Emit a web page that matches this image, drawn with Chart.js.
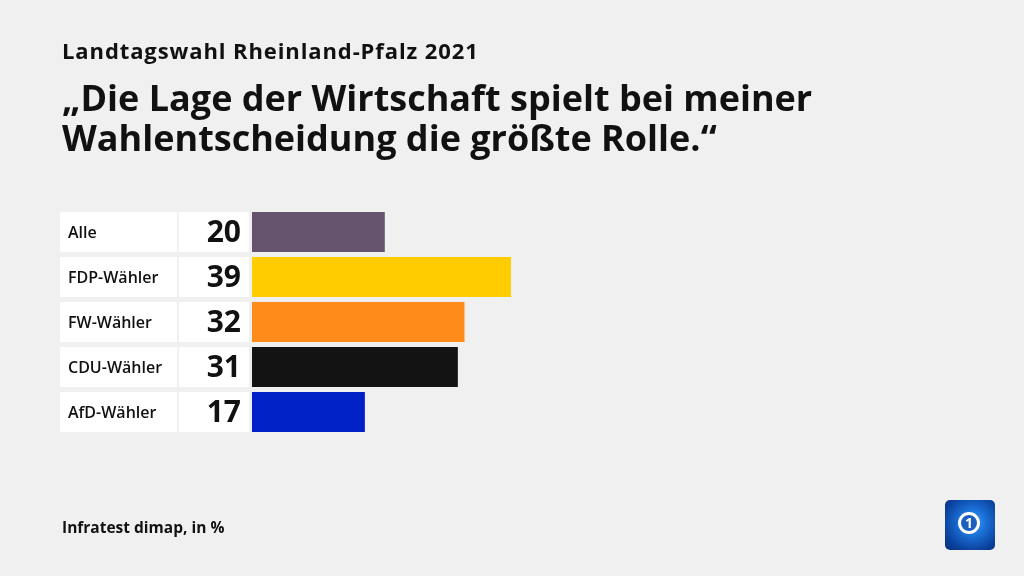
<!DOCTYPE html>
<html>
<head>
<meta charset="utf-8">
<script src="https://cdn.jsdelivr.net/npm/chart.js@4"></script>
<style>
  html, body { margin: 0; padding: 0; background: #f0f0f0; }
  #wrap { position: relative; width: 1024px; height: 576px; overflow: hidden; font-family: "Open Sans", "Noto Sans", sans-serif; color: #111; }
  canvas { position: absolute; left: 0; top: 0; }
  .sub { position: absolute; left: 62px; top: 35px; font-size: 22px; font-weight: 700; letter-spacing: 0.9px; }
  .main { position: absolute; left: 62px; top: 78px; font-size: 36px; line-height: 40px; font-weight: 700; letter-spacing: 0px; }
  .foot { position: absolute; left: 62px; top: 516px; font-size: 15.5px; font-weight: 700; }
  .logo { position: absolute; left: 945px; top: 500px; width: 50px; height: 50px; border-radius: 5px;
          background: radial-gradient(circle at 55% 45%, #3fa0ff 0%, #1a6fd6 35%, #0a3f9a 75%, #072e78 100%); }
  .logo .ring { position: absolute; left: 13px; top: 12px; width: 22px; height: 22px; border-radius: 50%; border: 3px solid #fff; box-sizing: border-box;
          background: #1d5fc0; color: #fff; font: 700 14px/16px "Open Sans", sans-serif; text-align: center; }
</style>
</head>
<body>
<div id="wrap">
  <canvas id="c" width="1024" height="576"></canvas>
  <div class="sub">Landtagswahl Rheinland-Pfalz 2021</div>
  <div class="main">„Die Lage der Wirtschaft spielt bei meiner<br>Wahlentscheidung die größte Rolle.“</div>
  <div class="foot">Infratest dimap, in %</div>
  <div class="logo"><div class="ring">1</div></div>
</div>
<script>
const categories = ["Alle", "FDP-Wähler", "FW-Wähler", "CDU-Wähler", "AfD-Wähler"];
const values = [20, 39, 32, 31, 17];
const barColors = ["#66546f", "#ffcc00", "#ff8c1a", "#131313", "#0021c6"];

const boxesPlugin = {
  id: "boxes",
  beforeDatasetsDraw(chart) {
    const ctx = chart.ctx;
    const meta = chart.getDatasetMeta(0);
    ctx.save();
    meta.data.forEach((bar, i) => {
      const h = bar.height;
      const top = bar.y - h / 2;
      ctx.fillStyle = "#ffffff";
      ctx.fillRect(60, top, 117, h);
      ctx.fillRect(179, top, 70, h);
      ctx.fillStyle = "#111111";
      ctx.textBaseline = "middle";
      ctx.textAlign = "left";
      ctx.font = "600 16px 'Open Sans', sans-serif";
      ctx.fillText(categories[i], 68, bar.y + 1);
      ctx.textAlign = "right";
      ctx.font = "700 30px 'Open Sans', sans-serif";
      ctx.fillText(String(values[i]), 241, bar.y + 1);
    });
    ctx.restore();
  }
};

new Chart(document.getElementById("c"), {
  type: "bar",
  data: {
    labels: categories,
    datasets: [{
      data: values,
      backgroundColor: barColors,
      borderWidth: 0,
      categoryPercentage: 1,
      barPercentage: 40 / 45
    }]
  },
  options: {
    indexAxis: "y",
    responsive: false,
    animation: false,
    layout: { padding: { left: 252, right: 108, top: 209.5, bottom: 141.5 } },
    scales: {
      x: { display: false, min: 0, max: 100 },
      y: { display: false }
    },
    plugins: { legend: { display: false }, tooltip: { enabled: false } }
  },
  plugins: [boxesPlugin]
});
</script>
</body>
</html>
